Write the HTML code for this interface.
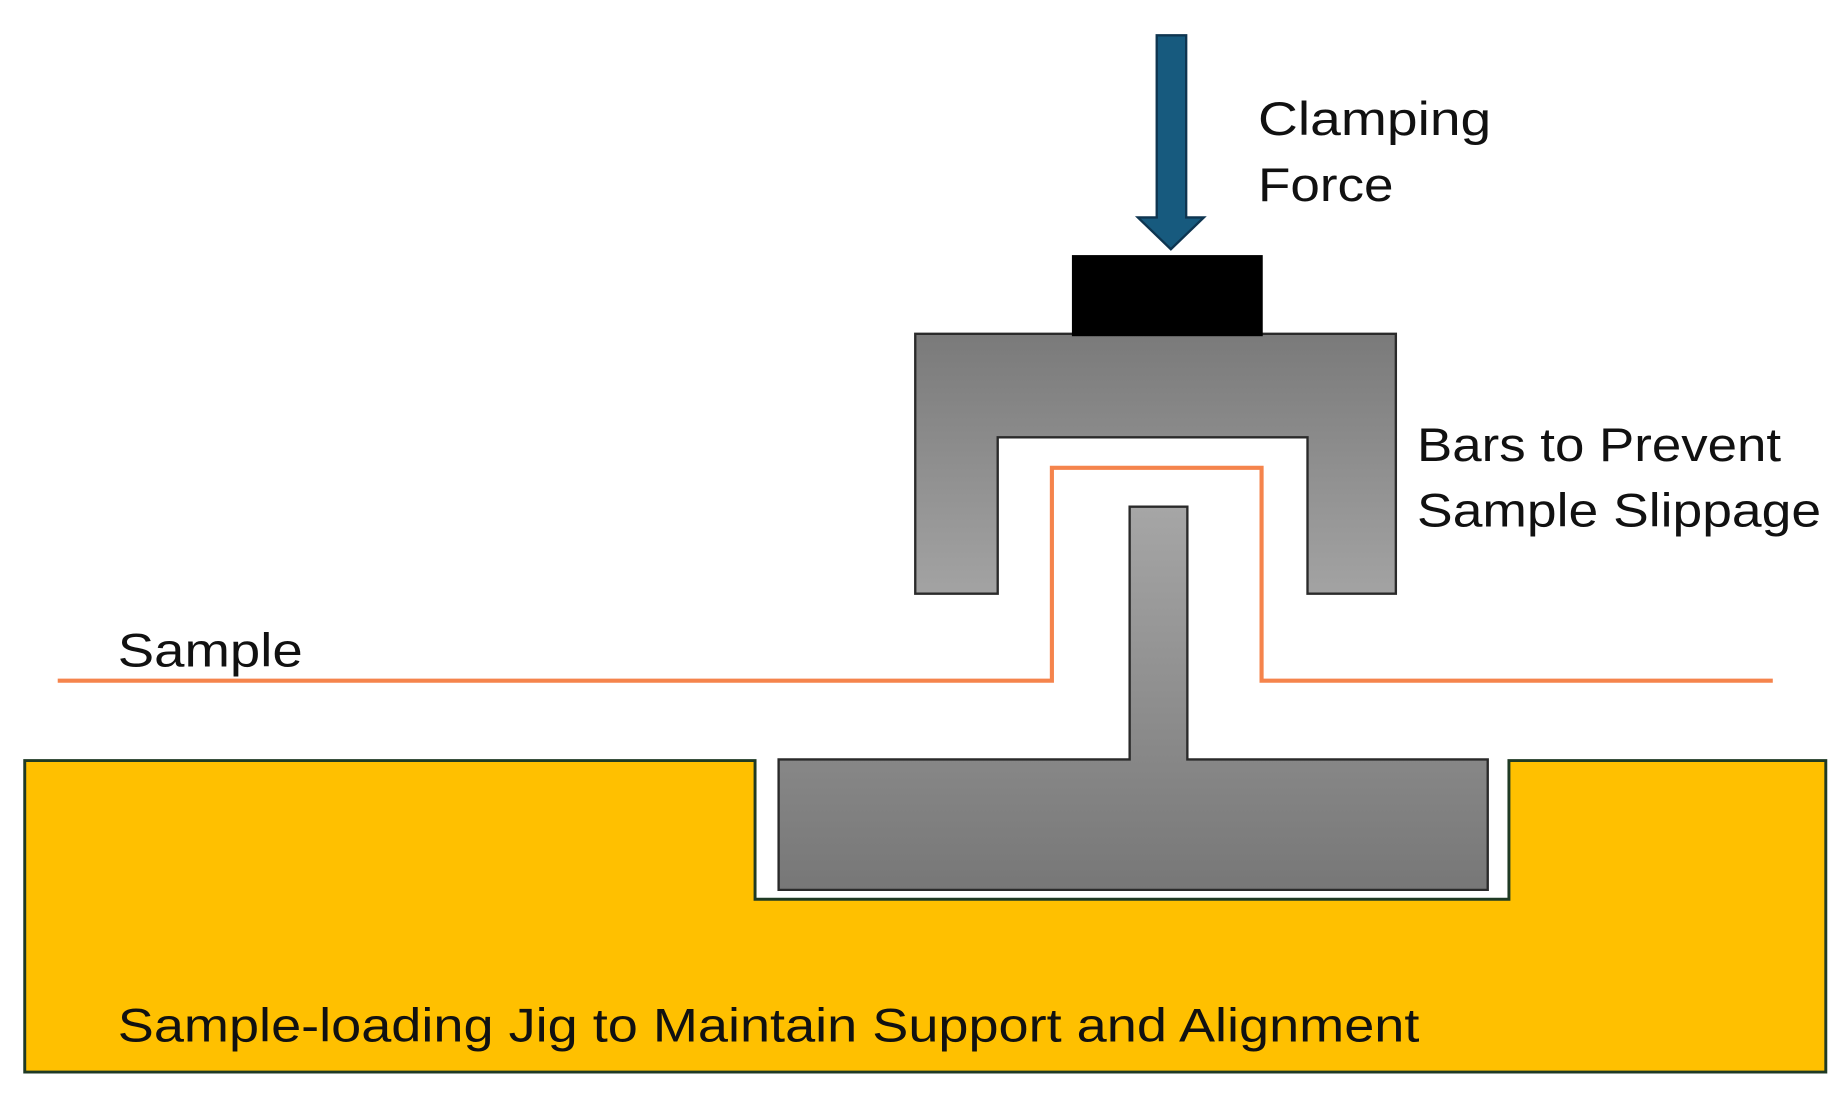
<!DOCTYPE html>
<html><head><meta charset="utf-8"><style>html,body{margin:0;padding:0;background:#fff}svg{display:block}</style></head>
<body>
<svg width="1847" height="1105" viewBox="0 0 1568 940" preserveAspectRatio="none" xmlns="http://www.w3.org/2000/svg">
<defs>
<linearGradient id="gu" x1="0" y1="0" x2="0" y2="1"><stop offset="0" stop-color="#7a7a7a"/><stop offset="1" stop-color="#a3a3a3"/></linearGradient>
<linearGradient id="gt" x1="0" y1="0" x2="0" y2="1"><stop offset="0" stop-color="#a6a6a6"/><stop offset="1" stop-color="#777"/></linearGradient>
</defs>
<polygon points="21,647 641,647 641,765 1281,765 1281,647 1550,647 1550,912 21,912" fill="#ffc000" stroke="#1f3a24" stroke-width="2.5"/>
<path d="M959,431 H1008 V646 H1263 V757 H661 V646 H959 Z" fill="url(#gt)" stroke="#2a2a2a" stroke-width="2"/>
<path d="M777,284 H1185 V505 H1110 V372 H847 V505 H777 Z" fill="url(#gu)" stroke="#2a2a2a" stroke-width="2"/>
<rect x="910" y="217" width="162" height="69" fill="#000"/>
<polygon points="982,30 1007,30 1007,185 1022,185 994,212 966,185 982,185" fill="#175a7e" stroke="#0e3550" stroke-width="2"/>
<polyline points="49,579 893,579 893,398 1071,398 1071,579 1505,579" fill="none" stroke="#f5844c" stroke-width="3.5"/>
<g font-family="'Liberation Sans', sans-serif" font-size="40" fill="#111">
<text x="1068" y="115" textLength="198" lengthAdjust="spacingAndGlyphs">Clamping</text>
<text x="1068" y="171" textLength="115" lengthAdjust="spacingAndGlyphs">Force</text>
<text x="1203" y="392" textLength="309" lengthAdjust="spacingAndGlyphs">Bars to Prevent</text>
<text x="1203" y="448" textLength="343" lengthAdjust="spacingAndGlyphs">Sample Slippage</text>
<text x="100" y="567" textLength="157" lengthAdjust="spacingAndGlyphs">Sample</text>
<text x="100" y="886" textLength="1105" lengthAdjust="spacingAndGlyphs">Sample-loading Jig to Maintain Support and Alignment</text>
</g>
</svg>
</body></html>
